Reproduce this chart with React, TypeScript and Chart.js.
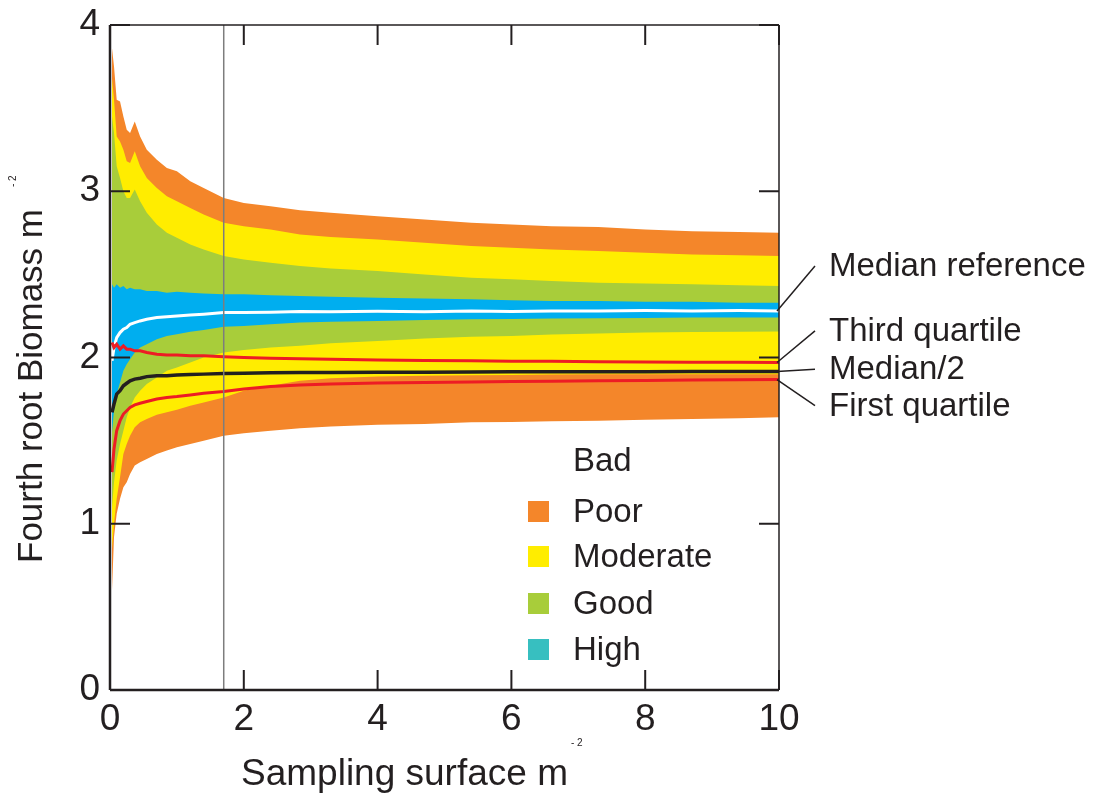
import React, { useEffect, useRef } from "react";
import { Chart, registerables } from "chart.js";

Chart.register(...registerables);

// Sampling surface (x) values
const samplingSurface = [0.03, 0.06, 0.1, 0.15, 0.2, 0.25, 0.3, 0.37, 0.45, 0.55, 0.7, 0.85, 1.0, 1.2, 1.4, 1.7, 2.0, 2.4, 2.84, 3.3, 4.0, 4.7, 5.4, 6.0, 6.6, 7.3, 8.0, 8.7, 9.4, 10.0];

// Band boundaries (top to bottom)
const poorUpperTop = [3.86, 3.75, 3.55, 3.54, 3.45, 3.37, 3.35, 3.42, 3.33, 3.25, 3.19, 3.14, 3.12, 3.06, 3.02, 2.96, 2.93, 2.91, 2.885, 2.87, 2.85, 2.83, 2.81, 2.8, 2.79, 2.785, 2.77, 2.76, 2.755, 2.75];
const moderateUpperTop = [3.68, 3.55, 3.33, 3.3, 3.25, 3.18, 3.17, 3.24, 3.15, 3.08, 3.02, 2.97, 2.94, 2.9, 2.86, 2.81, 2.79, 2.77, 2.74, 2.725, 2.71, 2.69, 2.67, 2.66, 2.65, 2.64, 2.63, 2.62, 2.615, 2.61];
const goodUpperTop = [3.45, 3.35, 3.15, 3.08, 3.0, 2.96, 2.96, 3.01, 2.94, 2.87, 2.8, 2.75, 2.72, 2.68, 2.65, 2.61, 2.59, 2.57, 2.55, 2.535, 2.52, 2.5, 2.48, 2.47, 2.46, 2.45, 2.445, 2.44, 2.435, 2.43];
const highTop = [2.44, 2.42, 2.44, 2.42, 2.43, 2.41, 2.42, 2.41, 2.41, 2.4, 2.4, 2.39, 2.395, 2.39, 2.385, 2.38, 2.38, 2.375, 2.37, 2.365, 2.36, 2.355, 2.35, 2.345, 2.34, 2.34, 2.335, 2.335, 2.33, 2.33];
const highBottom = [1.55, 1.68, 1.78, 1.85, 1.92, 1.96, 1.99, 2.03, 2.06, 2.08, 2.11, 2.13, 2.14, 2.155, 2.165, 2.185, 2.19, 2.2, 2.21, 2.215, 2.22, 2.225, 2.23, 2.232, 2.235, 2.236, 2.238, 2.24, 2.24, 2.24];
const goodLowerBottom = [1.1, 1.25, 1.38, 1.48, 1.56, 1.64, 1.7, 1.76, 1.8, 1.84, 1.88, 1.92, 1.94, 1.97, 2.0, 2.03, 2.045, 2.06, 2.07, 2.085, 2.1, 2.115, 2.125, 2.13, 2.139, 2.145, 2.15, 2.153, 2.155, 2.157];
const moderateLowerBottom = [0.85, 1.0, 1.15, 1.28, 1.42, 1.48, 1.53, 1.58, 1.61, 1.63, 1.655, 1.67, 1.685, 1.71, 1.73, 1.76, 1.8, 1.83, 1.86, 1.875, 1.885, 1.89, 1.893, 1.895, 1.898, 1.9, 1.9, 1.9, 1.9, 1.9];
const poorLowerBottom = [0.6, 0.92, 1.06, 1.15, 1.22, 1.25, 1.3, 1.35, 1.37, 1.39, 1.42, 1.44, 1.46, 1.48, 1.5, 1.53, 1.545, 1.56, 1.575, 1.585, 1.595, 1.6, 1.61, 1.612, 1.616, 1.62, 1.625, 1.63, 1.635, 1.64];

// Lines
const medianReference = [1.98, 2.06, 2.12, 2.15, 2.17, 2.18, 2.2, 2.21, 2.22, 2.23, 2.24, 2.245, 2.25, 2.255, 2.26, 2.27, 2.27, 2.272, 2.277, 2.275, 2.278, 2.275, 2.28, 2.277, 2.28, 2.28, 2.282, 2.28, 2.282, 2.28];
const thirdQuartile = [2.09, 2.06, 2.08, 2.05, 2.07, 2.05, 2.05, 2.04, 2.04, 2.03, 2.02, 2.015, 2.015, 2.01, 2.01, 2.005, 2.0, 1.995, 1.993, 1.99, 1.985, 1.982, 1.98, 1.978, 1.977, 1.975, 1.973, 1.972, 1.971, 1.97];
const medianHalf = [1.67, 1.72, 1.78, 1.8, 1.83, 1.845, 1.86, 1.87, 1.875, 1.885, 1.89, 1.89, 1.895, 1.898, 1.9, 1.904, 1.906, 1.908, 1.91, 1.91, 1.912, 1.912, 1.913, 1.914, 1.914, 1.915, 1.915, 1.916, 1.916, 1.916];
const firstQuartile = [1.31, 1.45, 1.56, 1.62, 1.66, 1.68, 1.7, 1.715, 1.725, 1.735, 1.75, 1.76, 1.765, 1.775, 1.785, 1.795, 1.81, 1.825, 1.835, 1.84, 1.847, 1.85, 1.853, 1.855, 1.857, 1.86, 1.862, 1.864, 1.866, 1.867];

const xTickValues = [0, 2, 4, 6, 8, 10];
const yTickValues = [0, 1, 2, 3, 4];
const markerSurface = 1.7;

const legendLabels = ["Bad", "Poor", "Moderate", "Good", "High"];
const legendColors = [null, "#f4862a", "#ffed00", "#a8cd3a", "#37bfc0"];

const annotationLabels = ["Median reference", "Third quartile", "Median/2", "First quartile"];
const annotationLabelValues = [2.55, 2.16, 1.93, 1.71];

const ORANGE = "#f4862a";
const YELLOW = "#ffed00";
const GREEN = "#a8cd3a";
const BLUE = "#00aeef";
const RED = "#ed1c24";
const INK = "#231f20";
const FONT = "'Liberation Sans', Arial, Helvetica, sans-serif";

const pts = (ys: number[]) => samplingSurface.map((x, i) => ({ x, y: ys[i] }));

const band = (ys: number[], color: string, fill: any, order: number) => ({
  data: pts(ys),
  borderWidth: 0,
  borderColor: "rgba(0,0,0,0)",
  backgroundColor: color,
  fill,
  pointRadius: 0,
  tension: 0,
  order,
});

const line = (ys: number[], color: string, width: number, order: number) => ({
  data: pts(ys),
  borderWidth: width,
  borderColor: color,
  backgroundColor: color,
  fill: false,
  pointRadius: 0,
  tension: 0,
  order,
});

const decorPlugin = {
  id: "decor",
  afterDraw(chart: any) {
    const { ctx, chartArea: a, scales } = chart;
    const xs = scales.x;
    const ys = scales.y;
    const seg = (x1: number, y1: number, x2: number, y2: number) => {
      ctx.beginPath();
      ctx.moveTo(x1, y1);
      ctx.lineTo(x2, y2);
      ctx.stroke();
    };
    ctx.save();
    // vertical marker
    const vx = xs.getPixelForValue(markerSurface);
    ctx.strokeStyle = "#7d7d7d";
    ctx.lineWidth = 1.5;
    seg(vx, a.top, vx, a.bottom);

    // frame
    ctx.strokeStyle = INK;
    ctx.lineWidth = 1.5;
    seg(a.left, a.top, a.right, a.top);
    seg(a.right, a.top, a.right, a.bottom);
    ctx.lineWidth = 2.5;
    seg(a.left, a.top, a.left, a.bottom);
    seg(a.left, a.bottom, a.right, a.bottom);

    // inward ticks
    ctx.lineWidth = 2;
    xTickValues.forEach((v) => {
      const px = xs.getPixelForValue(v);
      seg(px, a.bottom, px, a.bottom - 20);
      seg(px, a.top, px, a.top + 20);
    });
    yTickValues.forEach((v) => {
      const py = ys.getPixelForValue(v);
      seg(a.left, py, a.left + 20, py);
      seg(a.right, py, a.right - 20, py);
    });

    ctx.fillStyle = INK;
    // x title
    ctx.font = `37px ${FONT}`;
    ctx.textAlign = "left";
    ctx.textBaseline = "alphabetic";
    const xt = "Sampling surface m";
    const xtX = a.left + 131;
    ctx.fillText(xt, xtX, 785);
    const xtW = ctx.measureText(xt).width;
    ctx.font = `10px ${FONT}`;
    ctx.fillText("- 2", xtX + xtW + 3, 746);

    // y title
    ctx.save();
    ctx.translate(42, 563);
    ctx.rotate(-Math.PI / 2);
    ctx.font = `35px ${FONT}`;
    const yt = "Fourth root Biomass m";
    ctx.fillText(yt, 0, 0);
    const ytW = ctx.measureText(yt).width;
    ctx.font = `10px ${FONT}`;
    ctx.fillText("- 2", ytW + 22, -26);
    ctx.restore();

    // legend
    ctx.font = `33px ${FONT}`;
    ctx.textBaseline = "middle";
    const legRows = [461, 512, 557, 604, 650];
    legendLabels.forEach((lab, i) => {
      const c = legendColors[i];
      if (c) {
        ctx.fillStyle = c;
        ctx.fillRect(528, legRows[i] - 11, 21, 21);
      }
      ctx.fillStyle = INK;
      ctx.fillText(lab, 573, legRows[i] + 1);
    });

    // annotations
    const ends = [medianReference, thirdQuartile, medianHalf, firstQuartile].map((s) => s[s.length - 1]);
    ctx.strokeStyle = INK;
    ctx.lineWidth = 1.5;
    ctx.font = `33px ${FONT}`;
    annotationLabels.forEach((lab, i) => {
      const y0 = ys.getPixelForValue(ends[i]);
      const y1 = ys.getPixelForValue(annotationLabelValues[i]);
      seg(a.right - 2, y0, a.right + 36, y1);
      ctx.fillStyle = INK;
      ctx.fillText(lab, a.right + 50, y1 + 1);
    });
    ctx.restore();
  },
};

export default function App() {
  const ref = useRef<HTMLCanvasElement | null>(null);
  useEffect(() => {
    if (!ref.current) return;
    const chart = new Chart(ref.current, {
      type: "line",
      data: {
        datasets: [
          band(poorUpperTop, ORANGE, "+1", 10),
          band(poorLowerBottom, ORANGE, false, 10),
          band(moderateUpperTop, YELLOW, "+1", 9),
          band(moderateLowerBottom, YELLOW, false, 9),
          band(goodUpperTop, GREEN, "+1", 8),
          band(goodLowerBottom, GREEN, false, 8),
          band(highTop, BLUE, "+1", 7),
          band(highBottom, BLUE, false, 7),
          line(medianReference, "#ffffff", 3, 3),
          line(thirdQuartile, RED, 3, 2),
          line(medianHalf, INK, 3.5, 1),
          line(firstQuartile, RED, 3, 2),
        ] as any,
      },
      options: {
        responsive: false,
        animation: false,
        devicePixelRatio: 1,
        layout: { padding: { top: 25, right: 314, left: 0, bottom: 0 } },
        plugins: { legend: { display: false }, tooltip: { enabled: false } },
        scales: {
          x: {
            type: "linear",
            min: 0,
            max: 10,
            grid: { display: false, drawTicks: false },
            border: { display: false },
            ticks: { stepSize: 2, color: INK, font: { size: 37, family: FONT }, padding: 8, maxRotation: 0 },
            afterFit: (s: any) => { s.height = 105; s.paddingLeft = 0; s.paddingRight = 0; },
          },
          y: {
            type: "linear",
            min: 0,
            max: 4,
            grid: { display: false, drawTicks: false },
            border: { display: false },
            ticks: { stepSize: 1, color: INK, font: { size: 37, family: FONT }, padding: 10 },
            afterFit: (s: any) => { s.width = 110; s.paddingTop = 0; s.paddingBottom = 0; },
          },
        },
      } as any,
      plugins: [decorPlugin],
    });
    return () => chart.destroy();
  }, []);
  return (
    <div style={{ position: "absolute", left: 0, top: 0, width: 1093, height: 795, background: "#fff" }}>
      <canvas ref={ref} width={1093} height={795} />
    </div>
  );
}
